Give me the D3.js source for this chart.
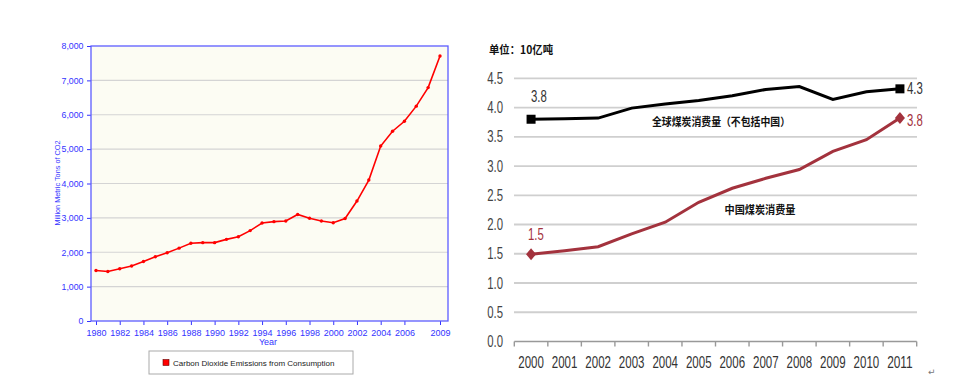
<!DOCTYPE html>
<html>
<head>
<meta charset="utf-8">
<script src="https://cdn.jsdelivr.net/npm/d3@7"></script>
<style>
  body { margin: 0; background: #fff; }
  svg { display: block; }
</style>
</head>
<body>
<div id="chart"></div>
<script>
// left chart: CO2 emissions
const co2Years = d3.range(1980, 2010);
const co2Values = [1470, 1440, 1520, 1600, 1730, 1870, 1985, 2120, 2260, 2280,
                   2280, 2375, 2450, 2630, 2850, 2890, 2910, 3100, 2990, 2910,
                   2860, 2980, 3490, 4100, 5090, 5520, 5810, 6250, 6790, 7710];
const co2TickYears = [1980, 1982, 1984, 1986, 1988, 1990, 1992, 1994, 1996, 1998,
                      2000, 2002, 2004, 2006, 2009];
const co2Ticks = [0, 1000, 2000, 3000, 4000, 5000, 6000, 7000, 8000];

// right chart: coal consumption
const coalYears = ["2000", "2001", "2002", "2003", "2004", "2005",
                   "2006", "2007", "2008", "2009", "2010", "2011"];
const worldNoChina = [3.80, 3.81, 3.82, 3.99, 4.06, 4.12, 4.20, 4.31, 4.36, 4.14, 4.27, 4.32];
const chinaCoal = [1.49, 1.55, 1.62, 1.84, 2.04, 2.38, 2.62, 2.79, 2.94, 3.25, 3.45, 3.82];
const coalTicks = [0, 0.5, 1, 1.5, 2, 2.5, 3, 3.5, 4, 4.5];

const W = 956, H = 391;
const svg = d3.select("#chart").append("svg")
    .attr("width", W).attr("height", H);

// ---------- left chart ----------
const blue = "#3333ff";
const L = svg.append("g").style("font-family", "Liberation Sans, Arial, sans-serif");

const lx = d3.scaleLinear().domain([1980, 2009]).range([96, 440]);
const ly = d3.scaleLinear().domain([0, 8000]).range([321, 46]);

L.append("rect")
    .attr("x", 91).attr("y", 46).attr("width", 357).attr("height", 275)
    .attr("fill", "#fcfcf3");

L.selectAll(".grid").data(co2Ticks.slice(1, -1)).enter().append("line")
    .attr("x1", 91).attr("x2", 448)
    .attr("y1", d => ly(d)).attr("y2", d => ly(d))
    .attr("stroke", "#d4d4d4").attr("stroke-width", 1.2);

const lyAxis = L.append("g").attr("transform", "translate(91,0)")
    .call(d3.axisLeft(ly).tickValues(co2Ticks).tickSize(4).tickFormat(d3.format(",")));
lyAxis.select(".domain").remove();
lyAxis.selectAll("line").attr("stroke", blue);
lyAxis.selectAll("text").attr("fill", blue).attr("font-size", 8.8).attr("dx", -0.5);

const lxAxis = L.append("g").attr("transform", "translate(0,321)")
    .call(d3.axisBottom(lx).tickValues(co2TickYears).tickSize(4).tickFormat(d3.format("d")));
lxAxis.select(".domain").remove();
lxAxis.selectAll("line").attr("stroke", blue);
lxAxis.selectAll("text").attr("fill", blue).attr("font-size", 9).attr("dy", "0.9em");

L.append("rect")
    .attr("x", 91).attr("y", 46).attr("width", 357).attr("height", 275)
    .attr("fill", "none").attr("stroke", "#5c5cff").attr("stroke-width", 1.3);

const co2Data = co2Years.map((y, i) => ({ year: y, value: co2Values[i] }));
L.append("path").datum(co2Data)
    .attr("fill", "none").attr("stroke", "#ff0000").attr("stroke-width", 1.6)
    .attr("d", d3.line().x(d => lx(d.year)).y(d => ly(d.value)));
L.selectAll(".pt").data(co2Data).enter().append("circle")
    .attr("cx", d => lx(d.year)).attr("cy", d => ly(d.value)).attr("r", 1.7)
    .attr("fill", "#ff0000");

L.append("text")
    .attr("transform", "translate(60,183) rotate(-90)")
    .attr("text-anchor", "middle").attr("font-size", 8).attr("fill", blue)
    .attr("textLength", 85).attr("lengthAdjust", "spacingAndGlyphs")
    .text("Million Metric Tons of CO2");
L.append("text")
    .attr("x", 268).attr("y", 345).attr("text-anchor", "middle")
    .attr("font-size", 9).attr("fill", blue).text("Year");

// legend
L.append("rect").attr("x", 149).attr("y", 351).attr("width", 204).attr("height", 23)
    .attr("fill", "#fff").attr("stroke", "#aaa");
L.append("rect").attr("x", 163).attr("y", 359.5).attr("width", 6).attr("height", 6)
    .attr("fill", "#ff0000").attr("stroke", "#600").attr("stroke-width", 0.6);
L.append("text").attr("x", 173).attr("y", 365.5)
    .attr("font-size", 8).attr("fill", "#222")
    .text("Carbon Dioxide Emissions from Consumption");

// ---------- right chart ----------
const R = svg.append("g").style("font-family", "'Liberation Sans', Arial, sans-serif");

// the source uses a condensed face; squeeze the glyphs to fit
const narrow = s => s.split("").reduce((w, c) => w + (c === "." ? 3 : 6.4), 0);

const rx = d3.scaleBand().domain(coalYears).range([514.3, 916.7]);
const ry = d3.scaleLinear().domain([0, 4.5]).range([341.5, 78.3]);
const cx = d => rx(d) + rx.bandwidth() / 2;

R.selectAll(".grid").data(coalTicks.slice(1)).enter().append("line")
    .attr("x1", 514).attr("x2", 917)
    .attr("y1", d => ry(d)).attr("y2", d => ry(d))
    .attr("stroke", "#cfcfcf").attr("stroke-width", 1.8);

R.selectAll(".ylab").data(coalTicks).enter().append("text")
    .attr("x", 503).attr("y", d => ry(d) + 5.5)
    .attr("text-anchor", "end").attr("font-size", 16).attr("fill", "#444")
    .attr("textLength", d => narrow(d3.format(".1f")(d))).attr("lengthAdjust", "spacingAndGlyphs")
    .text(d => d3.format(".1f")(d));

// x axis baseline with ticks on band edges
R.append("line").attr("x1", 514.3).attr("x2", 916.7)
    .attr("y1", ry(0)).attr("y2", ry(0)).attr("stroke", "#999").attr("stroke-width", 1.6);
R.selectAll(".xt").data(coalYears.concat(["end"])).enter().append("line")
    .attr("x1", d => d === "end" ? 916.7 : rx(d)).attr("x2", d => d === "end" ? 916.7 : rx(d))
    .attr("y1", ry(0)).attr("y2", ry(0) + 5).attr("stroke", "#999").attr("stroke-width", 1.4);
R.selectAll(".xlab").data(coalYears).enter().append("text")
    .attr("x", d => cx(d)).attr("y", 367.5)
    .attr("text-anchor", "middle").attr("font-size", 16).attr("fill", "#333")
    .attr("textLength", d => narrow(d)).attr("lengthAdjust", "spacingAndGlyphs")
    .text(d => d);

const line = d3.line().x(d => cx(d.year)).y(d => ry(d.value));
const worldData = coalYears.map((y, i) => ({ year: y, value: worldNoChina[i] }));
const chinaData = coalYears.map((y, i) => ({ year: y, value: chinaCoal[i] }));
const dark = "#a3323d";

R.append("path").datum(worldData).attr("fill", "none")
    .attr("stroke", "#000").attr("stroke-width", 3).attr("d", line);
R.append("path").datum(chinaData).attr("fill", "none")
    .attr("stroke", dark).attr("stroke-width", 3).attr("d", line);

const ends = [worldData[0], worldData[worldData.length - 1]];
R.selectAll(".sq").data(ends).enter().append("rect")
    .attr("x", d => cx(d.year) - 4.5).attr("y", d => ry(d.value) - 4.5)
    .attr("width", 9).attr("height", 9).attr("fill", "#000");
const cEnds = [chinaData[0], chinaData[chinaData.length - 1]];
R.selectAll(".dm").data(cEnds).enter().append("path")
    .attr("transform", d => `translate(${cx(d.year)},${ry(d.value)})`)
    .attr("d", "M0,-6L5,0L0,6L-5,0Z").attr("fill", dark);

// value labels
const valueLabels = [
  { x: 531, y: 102, text: "3.8", color: "#333" },
  { x: 907, y: 94, text: "4.3", color: "#333" },
  { x: 907, y: 126, text: "3.8", color: dark },
  { x: 528, y: 240, text: "1.5", color: dark }
];
R.selectAll(".vl").data(valueLabels).enter().append("text")
    .attr("x", d => d.x).attr("y", d => d.y).attr("font-size", 16).attr("fill", d => d.color)
    .attr("textLength", d => narrow(d.text)).attr("lengthAdjust", "spacingAndGlyphs")
    .text(d => d.text);

// series labels
const cjk = "'Noto Sans CJK SC', sans-serif";
R.append("text").attr("x", 721).attr("y", 126).attr("text-anchor", "middle")
    .style("font-family", cjk).attr("font-weight", "bold").attr("font-size", 11).attr("fill", "#111")
    .attr("textLength", 138).attr("lengthAdjust", "spacingAndGlyphs")
    .text("全球煤炭消费量（不包括中国）");
R.append("text").attr("x", 760).attr("y", 214).attr("text-anchor", "middle")
    .style("font-family", cjk).attr("font-weight", "bold").attr("font-size", 11).attr("fill", "#111")
    .attr("textLength", 71).attr("lengthAdjust", "spacingAndGlyphs")
    .text("中国煤炭消费量");
R.append("text").attr("x", 489).attr("y", 54)
    .style("font-family", cjk).attr("font-weight", "bold").attr("font-size", 11).attr("fill", "#111")
    .attr("textLength", 64).attr("lengthAdjust", "spacingAndGlyphs")
    .text("单位：10亿吨");

// stray paragraph mark
svg.append("text").attr("x", 928).attr("y", 375).attr("font-size", 9).attr("fill", "#777")
    .style("font-family", "DejaVu Sans").text("↵");
</script>
</body>
</html>
